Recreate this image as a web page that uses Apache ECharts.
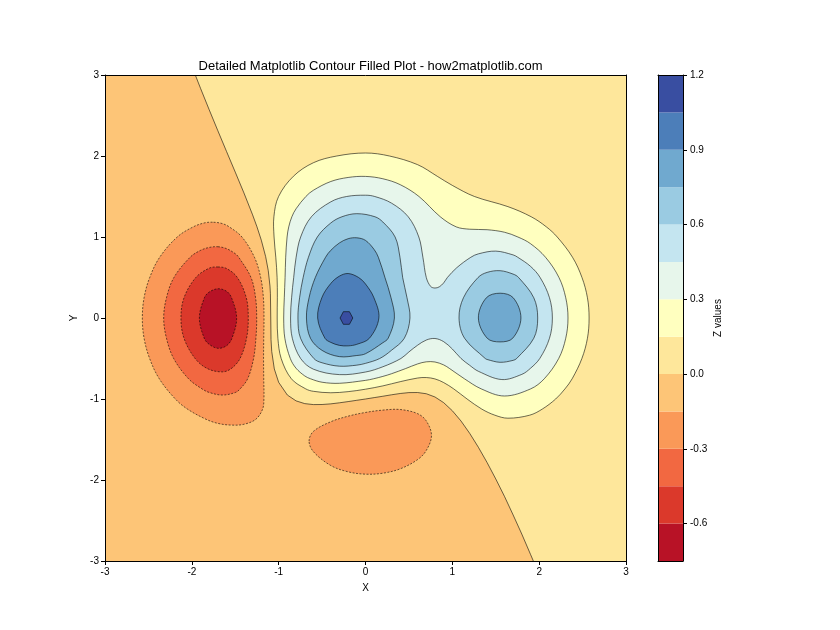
<!DOCTYPE html>
<html><head><meta charset="utf-8">
<script src="https://cdn.jsdelivr.net/npm/echarts@6/dist/echarts.min.js"></script>
<style>html,body{margin:0;padding:0;background:#fff}#c{width:840px;height:630px}</style>
</head><body><div id="c"></div>
<script>
// contour levels and band colours (RdYlBu)
const levels = [-0.75,-0.6,-0.45,-0.3,-0.15,0,0.15,0.3,0.45,0.6,0.75,0.9,1.05,1.2];
const bandColors = ['#b81226','#db392b','#f26841','#fa9958','#fdc577','#fee79b','#ffffbf','#e7f6eb','#c4e5f0','#9acbe2','#70a9cf','#4c7eb9','#394ea1'];
const axisTicks = [-3,-2,-1,0,1,2,3];
const colorbarTicks = [-0.6,-0.3,0,0.3,0.6,0.9,1.2];

// level 0 contour (open, top edge to bottom edge)
const zeroLine = [[-1.96,3],[-1.9,2.836],[-1.8,2.571],[-1.7,2.311],[-1.6,2.055],[-1.5,1.801],[-1.4,1.544],[-1.3,1.273],[-1.25,1.126],[-1.2,0.961],[-1.15,0.758],[-1.12,0.587],[-1.1,0.394],[-1.095,0.3],[-1.091,0],[-1.088,-0.267],[-1.08,-0.413],[-1.05,-0.629],[-1.0,-0.794],[-0.9,-0.951],[-0.8,-1.023],[-0.7,-1.057],[-0.6,-1.069],[-0.5,-1.068],[-0.4,-1.06],[-0.3,-1.047],[-0.2,-1.032],[-0.1,-1.016],[0,-1],[0.1,-0.983],[0.2,-0.966],[0.3,-0.948],[0.4,-0.932],[0.5,-0.921],[0.6,-0.92],[0.7,-0.935],[0.8,-0.975],[0.9,-1.045],[1.0,-1.145],[1.1,-1.272],[1.2,-1.424],[1.3,-1.596],[1.4,-1.784],[1.5,-1.987],[1.6,-2.201],[1.7,-2.431],[1.8,-2.668],[1.9,-2.917],[1.933,-3]];

// positive contours
const P015 = [[0,2.037],[0.276,2.0],[0.6,1.893],[0.826,1.75],[1.0,1.637],[1.255,1.5],[1.64,1.375],[1.908,1.25],[2.083,1.125],[2.208,1.0],[2.384,0.75],[2.493,0.5],[2.556,0.25],[2.575,0],[2.556,-0.25],[2.492,-0.5],[2.38,-0.75],[2.297,-0.875],[2.19,-1.0],[2.035,-1.125],[1.89,-1.2],[1.64,-1.237],[1.49,-1.2],[1.34,-1.125],[1.17,-1.0],[1.016,-0.875],[0.9,-0.797],[0.8,-0.752],[0.7,-0.735],[0.6,-0.741],[0.4,-0.786],[0.2,-0.838],[0,-0.879],[-0.2,-0.909],[-0.4,-0.923],[-0.6,-0.905],[-0.688,-0.875],[-0.854,-0.75],[-0.971,-0.5],[-1.009,-0.25],[-1.017,0],[-1.015,0.25],[-1.018,0.5],[-1.033,0.75],[-1.053,1.0],[-1.055,1.25],[-1.001,1.5],[-0.83,1.75],[-0.6,1.917],[-0.331,2.0]];
const P030 = [[0,1.748],[0.2,1.719],[0.4,1.646],[0.616,1.5],[0.861,1.25],[1.045,1.125],[1.2,1.096],[1.4,1.09],[1.6,1.059],[1.755,1.0],[1.9,0.918],[2.073,0.75],[2.228,0.5],[2.306,0.25],[2.332,0],[2.306,-0.25],[2.225,-0.5],[2.059,-0.75],[1.902,-0.875],[1.6,-0.963],[1.333,-0.875],[1.139,-0.75],[0.97,-0.625],[0.9,-0.579],[0.8,-0.543],[0.7,-0.541],[0.6,-0.567],[0.46,-0.625],[0.3,-0.688],[0.2,-0.721],[0.094,-0.75],[0,-0.77],[-0.3,-0.806],[-0.5,-0.793],[-0.634,-0.75],[-0.7,-0.715],[-0.8,-0.62],[-0.866,-0.5],[-0.929,-0.25],[-0.942,0],[-0.935,0.25],[-0.926,0.5],[-0.919,0.75],[-0.903,1.0],[-0.884,1.125],[-0.848,1.25],[-0.8,1.348],[-0.687,1.5],[-0.6,1.577],[-0.4,1.685],[-0.2,1.735]];
const P045 = [[0,1.516],[0.107,1.5],[0.3,1.418],[0.492,1.25],[0.614,1.0],[0.661,0.75],[0.7,0.5],[0.75,0.39],[0.8,0.37],[0.85,0.385],[0.9,0.433],[0.943,0.5],[1.05,0.62],[1.213,0.75],[1.3,0.792],[1.5,0.826],[1.7,0.779],[1.753,0.75],[1.9,0.638],[2.011,0.5],[2.119,0.25],[2.152,0],[2.119,-0.25],[2.007,-0.5],[1.9,-0.621],[1.8,-0.696],[1.57,-0.76],[1.3,-0.658],[1.2,-0.584],[1.1,-0.5],[1.0,-0.383],[0.9,-0.292],[0.8,-0.253],[0.7,-0.272],[0.6,-0.336],[0.5,-0.419],[0.408,-0.5],[0.2,-0.602],[0,-0.667],[-0.3,-0.699],[-0.6,-0.632],[-0.747,-0.5],[-0.843,-0.25],[-0.863,0],[-0.851,0.25],[-0.827,0.5],[-0.799,0.75],[-0.747,1.0],[-0.623,1.25],[-0.4,1.434],[-0.218,1.5]];
const P060a = [[-0.1,1.288],[0.109,1.25],[0.2,1.185],[0.341,1.0],[0.397,0.75],[0.428,0.5],[0.478,0.25],[0.512,0],[0.447,-0.25],[0.3,-0.398],[0.164,-0.5],[0,-0.56],[-0.1,-0.582],[-0.3,-0.595],[-0.5,-0.553],[-0.595,-0.5],[-0.748,-0.25],[-0.778,0],[-0.759,0.25],[-0.718,0.5],[-0.657,0.75],[-0.555,1.0],[-0.4,1.173],[-0.271,1.25]];
const P060b = [[1.4,0.563],[1.55,0.584],[1.7,0.542],[1.763,0.5],[1.938,0.25],[1.983,0],[1.938,-0.25],[1.741,-0.5],[1.7,-0.523],[1.55,-0.547],[1.4,-0.512],[1.379,-0.5],[1.141,-0.25],[1.077,0],[1.128,0.25],[1.296,0.5]];
const P075a = [[-0.3,0.927],[-0.2,0.979],[-0.1,0.99],[0,0.958],[0.1,0.845],[0.148,0.75],[0.224,0.5],[0.294,0.25],[0.333,0],[0.261,-0.25],[0.2,-0.305],[0,-0.441],[-0.1,-0.463],[-0.3,-0.477],[-0.5,-0.4],[-0.634,-0.25],[-0.68,0],[-0.65,0.25],[-0.578,0.5],[-0.46,0.75],[-0.4,0.835]];
const P075b = [[1.392,0.25],[1.55,0.306],[1.701,0.25],[1.79,0],[1.695,-0.25],[1.55,-0.295],[1.402,-0.25],[1.30,0]];
const P090 = [[-0.4,0.426],[-0.3,0.517],[-0.2,0.549],[-0.079,0.5],[0,0.42],[0.097,0.25],[0.154,0],[0.045,-0.25],[-0.1,-0.325],[-0.2,-0.344],[-0.3,-0.338],[-0.4,-0.301],[-0.467,-0.25],[-0.551,0],[-0.503,0.25]];
const P105 = [[-0.293,0],[-0.255,0.078],[-0.185,0.078],[-0.146,0],[-0.185,-0.078],[-0.255,-0.078]];

// negative contours
const N015a = [[-1.75,1.182],[-1.65,1.166],[-1.569,1.125],[-1.423,1.0],[-1.279,0.75],[-1.207,0.5],[-1.176,0.25],[-1.169,0],[-1.172,-0.25],[-1.174,-0.5],[-1.172,-0.75],[-1.17,-1.0],[-1.185,-1.125],[-1.263,-1.25],[-1.4,-1.312],[-1.55,-1.322],[-1.7,-1.301],[-1.837,-1.25],[-2.05,-1.125],[-2.19,-1.0],[-2.375,-0.75],[-2.486,-0.5],[-2.55,-0.25],[-2.57,0],[-2.55,0.25],[-2.485,0.5],[-2.37,0.75],[-2.168,1.0],[-1.984,1.125],[-1.85,1.175]];
const N030 = [[-1.7,0.88],[-1.6,0.856],[-1.5,0.794],[-1.46,0.75],[-1.319,0.5],[-1.266,0.25],[-1.253,0],[-1.262,-0.25],[-1.289,-0.5],[-1.357,-0.75],[-1.444,-0.875],[-1.5,-0.92],[-1.65,-0.951],[-1.8,-0.919],[-1.883,-0.875],[-2.038,-0.75],[-2.209,-0.5],[-2.292,-0.25],[-2.324,0],[-2.292,0.25],[-2.206,0.5],[-2.02,0.75],[-1.9,0.835],[-1.8,0.871]];
const N045 = [[-1.7,0.63],[-1.6,0.611],[-1.476,0.5],[-1.373,0.25],[-1.35,0],[-1.37,-0.25],[-1.445,-0.5],[-1.547,-0.625],[-1.65,-0.665],[-1.82,-0.625],[-1.962,-0.5],[-2.09,-0.25],[-2.125,0],[-2.09,0.25],[-1.954,0.5],[-1.8,0.615]];
const N060 = [[-1.7,0.361],[-1.6,0.33],[-1.543,0.25],[-1.484,0],[-1.538,-0.25],[-1.6,-0.342],[-1.7,-0.374],[-1.8,-0.325],[-1.857,-0.25],[-1.913,0],[-1.855,0.25],[-1.8,0.32]];
const N015b = [[-0.65,-1.52],[-0.6,-1.40],[-0.4,-1.281],[-0.2,-1.212],[0,-1.166],[0.2,-1.137],[0.4,-1.13],[0.6,-1.181],[0.7,-1.271],[0.76,-1.45],[0.7,-1.635],[0.6,-1.748],[0.4,-1.862],[0.2,-1.916],[0,-1.928],[-0.2,-1.899],[-0.4,-1.821],[-0.6,-1.65]];

const xRange = [-3, 3], yRange = [-3, 3];
const FONT = '"Liberation Sans", Arial, sans-serif';
const LINE = 'rgba(0,0,0,0.72)';

function levelIndex(l){ return levels.findIndex(v => Math.abs(v - l) < 1e-9); }

const contours = [
  {level:0.15, pts:P015}, {level:0.3, pts:P030}, {level:0.45, pts:P045},
  {level:0.6, pts:P060a}, {level:0.6, pts:P060b}, {level:0.75, pts:P075a}, {level:0.75, pts:P075b},
  {level:0.9, pts:P090}, {level:1.05, pts:P105, smooth:0},
  {level:-0.15, pts:N015a}, {level:-0.3, pts:N030}, {level:-0.45, pts:N045}, {level:-0.6, pts:N060},
  {level:-0.15, pts:N015b}
];

const items = [];
items.push({kind:'region', pts: zeroLine.concat([[xRange[1], yRange[0]], [xRange[1], yRange[1]]]), fill: bandColors[levelIndex(0)]});
items.push({kind:'line', pts: zeroLine});
contours.forEach(c => {
  const li = levelIndex(c.level);
  const neg = c.level < 0;
  items.push({kind:'contour', pts:c.pts, fill: bandColors[neg ? li - 1 : li], dash: neg, smooth: c.smooth === undefined ? 0.35 : c.smooth});
});

function renderContour(params, api){
  const it = items[params.dataIndex];
  const pts = it.pts.map(p => api.coord(p));
  if (it.kind === 'line') {
    return {type:'polyline', z2: params.dataIndex, shape:{points:pts}, style:{stroke:LINE, lineWidth:0.8, fill:null}};
  }
  if (it.kind === 'region') {
    return {type:'polygon', z2: params.dataIndex, shape:{points:pts}, style:{fill:it.fill, stroke:null}};
  }
  return {type:'polygon', z2: params.dataIndex, shape:{points:pts, smooth:it.smooth},
    style:{fill:it.fill, stroke:LINE, lineWidth:0.8, lineDash: it.dash ? [2,1.5] : null}};
}

function renderBand(params, api){
  const i = params.dataIndex;
  const p0 = api.coord([0, levels[i+1]]);
  const p1 = api.coord([1, levels[i]]);
  return {type:'rect', shape:{x:p0[0], y:p0[1], width:p1[0]-p0[0], height:p1[1]-p0[1]}, style:{fill:bandColors[i]}};
}

const lineOnly = {show:true, onZero:false, lineStyle:{color:'#000', width:1}};
const txt = {color:'#000', fontSize:10, fontFamily:FONT};

const option = {
  animation:false,
  backgroundColor:'#fff',
  title:{text:'Detailed Matplotlib Contour Filled Plot - how2matplotlib.com', left:365.5, top:55, textAlign:'center',
    textStyle:{fontSize:13, fontWeight:'normal', color:'#000', fontFamily:FONT}},
  grid:[
    {left:105, top:75, width:521, height:486, show:true, backgroundColor:bandColors[levelIndex(0)-1], borderWidth:0},
    {left:658, top:75, width:25, height:486, show:false}
  ],
  xAxis:[
    {gridIndex:0, type:'value', min:xRange[0], max:xRange[1], interval:1, position:'bottom', z:10,
      axisLine:lineOnly, axisTick:{show:true, length:4, lineStyle:{color:'#000'}},
      axisLabel:Object.assign({margin:6}, txt), splitLine:{show:false},
      name:'X', nameLocation:'middle', nameGap:22, nameTextStyle:txt},
    {gridIndex:0, type:'value', min:xRange[0], max:xRange[1], position:'top', z:10,
      axisLine:lineOnly, axisTick:{show:false}, axisLabel:{show:false}, splitLine:{show:false}},
    {gridIndex:1, type:'value', min:0, max:1, position:'bottom', z:10,
      axisLine:lineOnly, axisTick:{show:false}, axisLabel:{show:false}, splitLine:{show:false}},
    {gridIndex:1, type:'value', min:0, max:1, position:'top', z:10,
      axisLine:lineOnly, axisTick:{show:false}, axisLabel:{show:false}, splitLine:{show:false}}
  ],
  yAxis:[
    {gridIndex:0, type:'value', min:yRange[0], max:yRange[1], interval:1, position:'left', z:10,
      axisLine:lineOnly, axisTick:{show:true, length:4, lineStyle:{color:'#000'}},
      axisLabel:Object.assign({margin:6}, txt), splitLine:{show:false},
      name:'Y', nameLocation:'middle', nameGap:22, nameRotate:90, nameTextStyle:txt},
    {gridIndex:0, type:'value', min:yRange[0], max:yRange[1], position:'right', z:10,
      axisLine:lineOnly, axisTick:{show:false}, axisLabel:{show:false}, splitLine:{show:false}},
    {gridIndex:1, type:'value', min:levels[0], max:levels[levels.length-1], position:'right', z:10,
      axisLine:lineOnly,
      axisTick:{show:true, length:4, lineStyle:{color:'#000'}, customValues:colorbarTicks},
      axisLabel:Object.assign({margin:7, customValues:colorbarTicks, formatter:v => Number(v).toFixed(1)}, txt),
      splitLine:{show:false},
      name:'Z values', nameLocation:'middle', nameGap:30, nameRotate:90, nameTextStyle:txt},
    {gridIndex:1, type:'value', min:levels[0], max:levels[levels.length-1], position:'left', z:10,
      axisLine:lineOnly, axisTick:{show:false}, axisLabel:{show:false}, splitLine:{show:false}}
  ],
  series:[
    {type:'custom', coordinateSystem:'cartesian2d', xAxisIndex:0, yAxisIndex:0, clip:true,
      renderItem:renderContour, data: items.map(it => it.pts[0]), silent:true},
    {type:'custom', coordinateSystem:'cartesian2d', xAxisIndex:2, yAxisIndex:2,
      renderItem:renderBand, data: bandColors.map((c,i) => [0.5, (levels[i]+levels[i+1])/2]), silent:true}
  ]
};

const chart = echarts.init(document.getElementById('c'), null, {renderer:'canvas'});
chart.setOption(option);
</script>
</body></html>
